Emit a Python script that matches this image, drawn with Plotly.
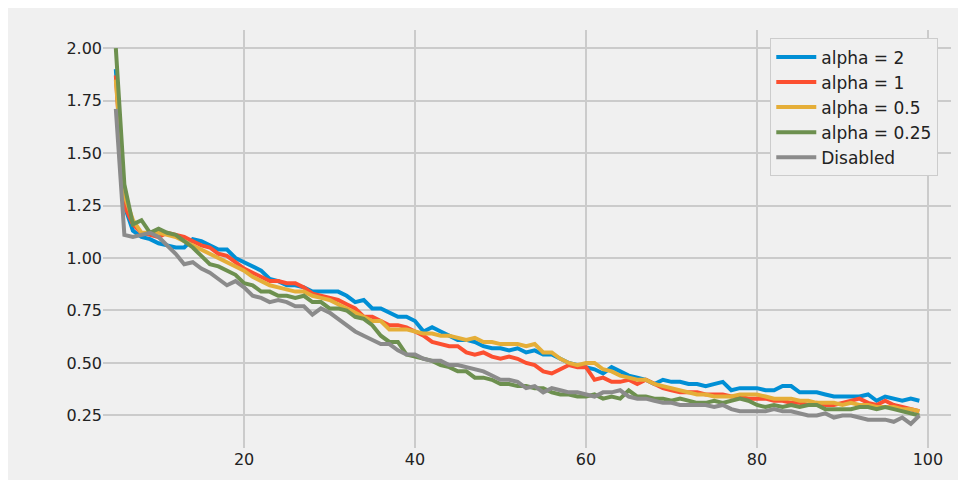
import plotly.graph_objects as go

x = list(range(5, 100))

alpha_2 = [1.90, 1.25, 1.13, 1.10, 1.09, 1.07, 1.06, 1.05, 1.05, 1.09, 1.08, 1.06, 1.04, 1.04, 1.00,
           0.98, 0.96, 0.94, 0.90, 0.89, 0.87, 0.87, 0.86, 0.84, 0.84, 0.84, 0.84, 0.82, 0.79, 0.80,
           0.76, 0.76, 0.74, 0.72, 0.72, 0.70, 0.65, 0.67, 0.65, 0.63, 0.61, 0.61, 0.60, 0.58, 0.57,
           0.57, 0.56, 0.57, 0.55, 0.56, 0.54, 0.54, 0.52, 0.50, 0.49, 0.48, 0.47, 0.45, 0.48, 0.46,
           0.44, 0.43, 0.42, 0.40, 0.42, 0.41, 0.41, 0.40, 0.40, 0.39, 0.40, 0.41, 0.37, 0.38, 0.38,
           0.38, 0.37, 0.37, 0.39, 0.39, 0.36, 0.36, 0.36, 0.35, 0.34, 0.34, 0.34, 0.34, 0.35, 0.32,
           0.34, 0.33, 0.32, 0.33, 0.32]
alpha_1 = [1.87, 1.25, 1.16, 1.12, 1.11, 1.10, 1.12, 1.11, 1.10, 1.08, 1.06, 1.05, 1.02, 1.01, 0.98,
           0.95, 0.93, 0.91, 0.89, 0.89, 0.88, 0.88, 0.86, 0.83, 0.82, 0.81, 0.80, 0.78, 0.76, 0.72,
           0.72, 0.70, 0.68, 0.68, 0.67, 0.65, 0.63, 0.60, 0.59, 0.58, 0.58, 0.55, 0.54, 0.55, 0.53,
           0.52, 0.53, 0.52, 0.50, 0.49, 0.46, 0.45, 0.47, 0.49, 0.48, 0.48, 0.42, 0.43, 0.41, 0.41,
           0.42, 0.40, 0.42, 0.40, 0.38, 0.37, 0.36, 0.36, 0.36, 0.35, 0.35, 0.35, 0.34, 0.34, 0.33,
           0.33, 0.33, 0.32, 0.32, 0.31, 0.31, 0.30, 0.31, 0.30, 0.30, 0.31, 0.32, 0.33, 0.31, 0.30,
           0.32, 0.30, 0.29, 0.28, 0.27]
alpha_05 = [1.85, 1.30, 1.18, 1.12, 1.12, 1.12, 1.11, 1.10, 1.08, 1.06, 1.04, 1.02, 1.00, 0.98, 0.96,
            0.94, 0.91, 0.89, 0.87, 0.86, 0.85, 0.84, 0.84, 0.82, 0.81, 0.80, 0.78, 0.76, 0.74, 0.72,
            0.70, 0.70, 0.66, 0.66, 0.66, 0.65, 0.64, 0.64, 0.63, 0.63, 0.62, 0.61, 0.62, 0.60, 0.60,
            0.59, 0.59, 0.59, 0.58, 0.59, 0.55, 0.55, 0.52, 0.50, 0.49, 0.50, 0.50, 0.47, 0.46, 0.44,
            0.43, 0.42, 0.42, 0.40, 0.39, 0.38, 0.37, 0.36, 0.35, 0.35, 0.34, 0.34, 0.34, 0.35, 0.35,
            0.35, 0.34, 0.33, 0.33, 0.33, 0.32, 0.32, 0.31, 0.31, 0.31, 0.30, 0.31, 0.30, 0.30, 0.29,
            0.29, 0.29, 0.28, 0.28, 0.27]
alpha_025 = [2.00, 1.35, 1.16, 1.18, 1.12, 1.14, 1.12, 1.11, 1.08, 1.05, 1.01, 0.97, 0.96, 0.94, 0.92,
             0.88, 0.87, 0.84, 0.84, 0.82, 0.82, 0.81, 0.82, 0.79, 0.79, 0.76, 0.76, 0.75, 0.72, 0.71,
             0.68, 0.63, 0.60, 0.60, 0.54, 0.53, 0.52, 0.51, 0.49, 0.48, 0.46, 0.46, 0.43, 0.43, 0.42,
             0.40, 0.40, 0.39, 0.39, 0.38, 0.38, 0.36, 0.35, 0.35, 0.34, 0.34, 0.35, 0.33, 0.34, 0.33,
             0.37, 0.34, 0.34, 0.33, 0.33, 0.32, 0.33, 0.32, 0.31, 0.31, 0.32, 0.31, 0.32, 0.33, 0.32,
             0.30, 0.29, 0.30, 0.29, 0.30, 0.29, 0.30, 0.30, 0.28, 0.28, 0.28, 0.28, 0.29, 0.29, 0.28,
             0.29, 0.28, 0.27, 0.26, 0.25]
disabled = [1.71, 1.11, 1.10, 1.11, 1.12, 1.10, 1.06, 1.02, 0.97, 0.98, 0.95, 0.93, 0.90, 0.87, 0.89,
            0.86, 0.82, 0.81, 0.79, 0.80, 0.79, 0.77, 0.77, 0.73, 0.76, 0.74, 0.71, 0.68, 0.65, 0.63,
            0.61, 0.59, 0.59, 0.56, 0.54, 0.54, 0.52, 0.51, 0.51, 0.49, 0.49, 0.48, 0.47, 0.46, 0.44,
            0.42, 0.42, 0.41, 0.38, 0.39, 0.36, 0.38, 0.37, 0.36, 0.36, 0.35, 0.34, 0.36, 0.36, 0.37,
            0.34, 0.33, 0.33, 0.32, 0.31, 0.31, 0.30, 0.30, 0.30, 0.30, 0.29, 0.30, 0.28, 0.27, 0.27,
            0.27, 0.27, 0.28, 0.27, 0.27, 0.26, 0.25, 0.25, 0.26, 0.24, 0.25, 0.25, 0.24, 0.23, 0.23,
            0.23, 0.22, 0.24, 0.21, 0.25, 0.24, 0.23, 0.22, 0.22][:95]

series = [("alpha = 2", alpha_2, "#008fd5"),
          ("alpha = 1", alpha_1, "#fc4f30"),
          ("alpha = 0.5", alpha_05, "#e5ae38"),
          ("alpha = 0.25", alpha_025, "#6d904f"),
          ("Disabled", disabled, "#8b8b8b")]

fig = go.Figure()
for name, vals, color in series:
    fig.add_trace(go.Scatter(x=x, y=vals, mode="lines", name=name,
                             line=dict(color=color, width=4)))

fig.update_layout(
    width=966, height=480,
    paper_bgcolor="#f0f0f0", plot_bgcolor="#f0f0f0",
    margin=dict(l=95, r=23, t=22, b=40, autoexpand=False),
    font=dict(family="DejaVu Sans", size=16, color="#222222"),
    legend=dict(x=0.985, y=0.98, xanchor="right", yanchor="top",
                bgcolor="#f0f0f0", bordercolor="#cccccc", borderwidth=1,
                font=dict(size=17), itemwidth=40),
    xaxis=dict(range=[3.5, 102.7], tickvals=[20, 40, 60, 80, 100],
               gridcolor="#cbcbcb", gridwidth=1.5, zeroline=False, showline=False,
               automargin=False),
    yaxis=dict(range=[0.095, 2.086], tickvals=[0.25, 0.5, 0.75, 1.0, 1.25, 1.5, 1.75, 2.0],
               tickformat=".2f", gridcolor="#cbcbcb", gridwidth=1.5, zeroline=False,
               ticks="", automargin=False),
)
fig.write_html("out.html")
